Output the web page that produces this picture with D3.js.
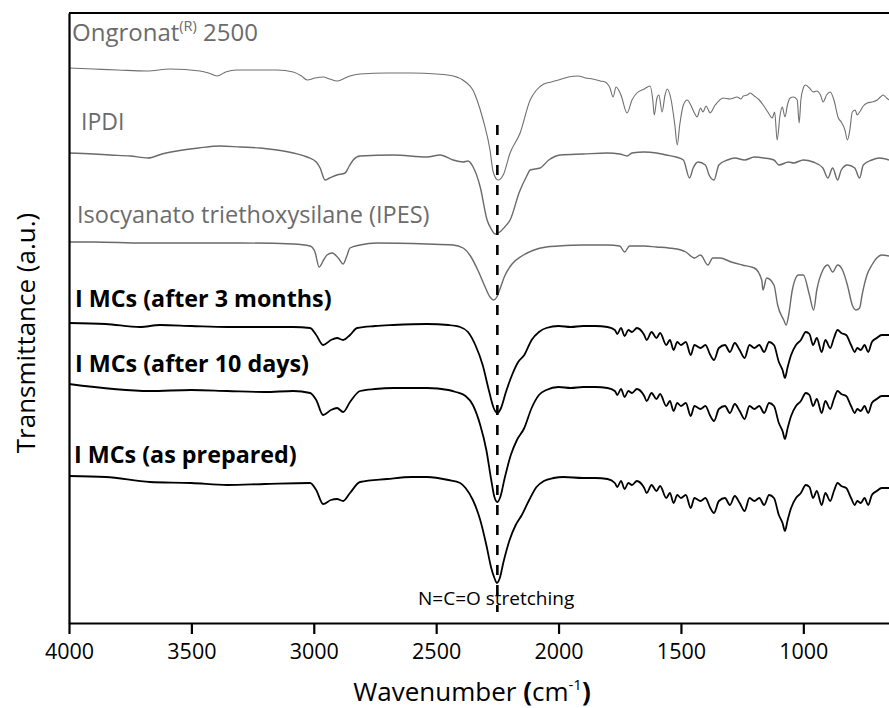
<!DOCTYPE html>
<html>
<head>
<meta charset="utf-8">
<script src="https://cdn.jsdelivr.net/npm/d3@7"></script>
<style>
  html, body { margin: 0; padding: 0; background: #fff; }
  svg { display: block; font-family: "Open Sans", "Noto Sans", sans-serif; }
</style>
</head>
<body>
<svg id="chart" width="889" height="708"></svg>
<script>
// ---------- DATA ----------
const xTicks = [4000, 3500, 3000, 2500, 2000, 1500, 1000];
const seriesNames = ["Ongronat 2500", "IPDI", "Isocyanato triethoxysilane (IPES)",
  "I MCs (after 3 months)", "I MCs (after 10 days)", "I MCs (as prepared)"];

const ongronatWn = [4000,3900,3800,3681,3587,3465,3430,3395,3360,3313,3150,3084,3050,3027,2995,2962,2935,2905,2880,2852,2811,2700,2600,2500,2430,2380,2350,2333,2308,2280,2267,2247,2226,2198,2157,2116,2090,2060,2030,2000,1960,1920,1890,1860,1830,1810,1790,1777,1765,1745,1720,1700,1680,1650,1626,1615,1609,1598,1590,1577,1565,1556,1540,1525,1515,1505,1490,1474,1460,1445,1434,1420,1410,1397,1388,1381,1360,1327,1300,1270,1255,1245,1229,1217,1200,1180,1164,1145,1127,1117,1107,1095,1086,1075,1065,1054,1040,1025,1017,1010,1000,992,975,960,945,930,919,905,890,875,857,845,830,820,810,800,788,780,770,755,739,720,698,685,674,660,650];
const ongronatT = [555,554,553,552,554,552,550,547,551,553,553,551,547,543,545,546,544,542,544,547,549,550,550,549,547,541,533,523,503,473,451,443,448,470,490,523,533,539,541,543,546,547,545,544,542,541,535,526,536,528,510,523,530,534,537,523,508,525,528,511,528,534,523,498,478,498,518,523,518,510,506,515,511,517,513,510,518,525,524,526,524,527,528,530,527,523,518,511,505,511,483,508,516,506,518,525,526,523,500,523,535,538,535,531,532,528,521,528,531,523,505,501,493,483,493,511,513,508,511,517,520,521,523,526,528,525,523];

const ipdiWn = [4000,3900,3832,3750,3677,3620,3559,3470,3383,3300,3219,3150,3084,3027,2990,2974,2954,2935,2905,2872,2855,2839,2811,2676,2537,2484,2431,2390,2370,2349,2320,2292,2275,2258,2240,2220,2198,2160,2130,2116,2075,2040,1993,1900,1800,1750,1720,1700,1650,1600,1560,1520,1490,1465,1450,1430,1400,1385,1365,1345,1310,1280,1240,1200,1160,1120,1100,1060,1040,1000,960,920,900,880,860,845,820,790,770,755,720,690,650];
const ipdiT = [470,469,468,467,465,469,472,475,477,476,475,473,470,466,461,455,443,445,448,450,457,463,467,468,466,468,463,461,462,456,436,403,394,389,391,396,403,431,447,453,455,463,468,469,470,469,467,470,471,470,468,466,463,445,455,461,458,448,443,458,463,465,463,466,465,463,458,461,460,463,461,455,445,455,443,453,458,455,445,458,463,465,463];

const ipesWn = [4000,3900,3698,3500,3300,3084,3015,2995,2978,2960,2946,2925,2900,2880,2865,2852,2811,2742,2537,2431,2390,2360,2330,2300,2280,2266,2252,2238,2220,2190,2150,2100,2050,2000,1900,1800,1750,1730,1710,1650,1600,1550,1500,1480,1445,1420,1390,1370,1340,1295,1250,1200,1170,1165,1150,1120,1105,1080,1070,1060,1045,1020,1000,975,958,945,920,900,880,860,840,820,800,785,770,760,740,720,700,680,650];
const ipesT = [381,381,380,380,380,379,377,371,356,363,368,370,365,359,367,375,378,380,379,378,375,367,353,336,326,323,326,335,347,359,367,373,376,377,378,378,377,371,377,377,376,375,373,371,365,368,358,365,365,361,358,355,343,333,345,338,318,303,298,308,333,348,348,328,313,333,353,358,351,358,353,338,318,313,315,328,348,358,365,368,367];

const m3Wn = [4000,3850,3710,3628,3500,3354,3200,3084,3015,2990,2962,2930,2905,2880,2852,2823,2750,2676,2537,2450,2402,2370,2340,2310,2285,2265,2250,2235,2215,2190,2165,2140,2110,2080,2050,2000,1950,1900,1850,1800,1770,1760,1745,1730,1715,1700,1680,1650,1640,1620,1600,1585,1560,1545,1530,1515,1500,1480,1460,1445,1420,1400,1380,1365,1345,1320,1300,1280,1260,1240,1220,1200,1180,1160,1140,1120,1100,1085,1075,1065,1050,1030,1010,990,975,960,945,925,910,890,875,860,845,825,805,790,780,765,750,735,720,700,680,650];
const m3T = [300,299,296,298,297,296,296,296,295,288,278,283,285,283,288,295,297,298,299,298,296,291,278,258,233,215,210,215,231,248,261,268,283,291,295,297,296,297,297,296,293,289,295,287,293,291,295,288,283,291,285,290,278,283,273,281,278,281,268,278,275,278,268,263,275,278,271,280,273,265,278,275,278,271,281,278,261,253,245,255,268,278,283,291,289,278,285,271,283,275,285,293,290,288,278,271,275,273,278,271,281,285,288,288];

const d10Wn = [4000,3669,3500,3354,3200,3084,3015,2990,2962,2930,2905,2880,2852,2811,2750,2676,2537,2450,2420,2380,2350,2320,2295,2275,2262,2250,2238,2220,2195,2170,2140,2110,2080,2050,2000,1950,1900,1850,1800,1770,1760,1745,1730,1715,1700,1680,1650,1640,1620,1600,1585,1560,1545,1530,1515,1500,1480,1460,1445,1420,1400,1380,1365,1345,1320,1300,1280,1260,1240,1220,1200,1180,1160,1140,1120,1100,1085,1075,1065,1050,1030,1010,990,975,960,945,925,910,890,875,860,845,825,805,790,780,765,750,735,720,700,680,650];
const d10T = [239,232,233,232,231,232,230,223,208,213,215,211,221,232,234,235,235,233,231,227,218,198,173,143,126,121,126,145,168,183,195,215,228,233,236,235,236,236,235,232,228,234,226,232,230,234,227,222,230,224,229,217,222,212,220,217,220,207,217,214,217,207,202,214,217,210,219,212,204,217,214,217,210,220,217,200,192,184,194,207,217,222,230,228,217,224,210,222,214,224,232,229,227,217,210,214,212,217,210,220,224,227,227];

const prepWn = [4000,3850,3669,3500,3354,3200,3015,2990,2962,2930,2905,2880,2852,2811,2700,2600,2537,2450,2402,2380,2350,2320,2295,2275,2262,2252,2240,2225,2200,2175,2150,2120,2090,2060,2020,1980,1900,1850,1800,1770,1760,1745,1730,1715,1700,1680,1650,1640,1620,1600,1585,1560,1545,1530,1515,1500,1480,1460,1445,1420,1400,1380,1365,1345,1320,1300,1280,1260,1240,1220,1200,1180,1160,1140,1120,1100,1085,1075,1065,1050,1030,1010,990,975,960,945,925,910,890,875,860,845,825,805,790,780,765,750,735,720,700,680,650];
const prepT = [147,146,141,140,138,139,140,133,119,123,124,122,130,141,144,146,146,143,140,135,123,103,78,55,45,40,45,61,83,98,108,123,136,142,145,146,145,145,144,140,136,142,134,140,138,142,135,130,138,132,137,125,130,120,128,125,128,115,125,122,125,115,110,122,125,118,127,120,112,125,122,125,118,128,125,108,100,92,102,115,125,130,138,136,125,132,118,130,122,132,140,137,135,125,118,122,120,125,118,128,132,135,135];

const ncoMarkerWn = 2250;
const ncoMarkerRange = [11, 498];
const ncoLabel = "N=C=O stretching";

// ---------- CHART ----------
(function () {
const svg = d3.select("#chart");
const pL = 69, pR = 889, pT = 13, pB = 623;

const x = d3.scaleLinear().domain([4000, 650]).range([pL, pR]);
const y = d3.scaleLinear().domain([0, 610]).range([pB, pT]);

const series = [
  {wn: ongronatWn, t: ongronatT, color: "#6f6f6f", width: 1.1},
  {wn: ipdiWn, t: ipdiT, color: "#6a6a6a", width: 1.4},
  {wn: ipesWn, t: ipesT, color: "#6a6a6a", width: 1.4},
  {wn: m3Wn, t: m3T, color: "#000", width: 1.8},
  {wn: d10Wn, t: d10T, color: "#000", width: 1.8},
  {wn: prepWn, t: prepT, color: "#000", width: 1.8}
];

const line = d3.line()
  .x(d => x(d[0]))
  .y(d => y(d[1]))
  .curve(d3.curveMonotoneX);

svg.append("g").selectAll("path")
  .data(series)
  .join("path")
  .attr("fill", "none")
  .attr("stroke", d => d.color)
  .attr("stroke-width", d => d.width)
  .attr("stroke-linejoin", "round")
  .attr("d", d => line(d.wn.map((w, i) => [w, d.t[i]])));

svg.append("line")
  .attr("x1", x(ncoMarkerWn)).attr("x2", x(ncoMarkerWn))
  .attr("y1", y(ncoMarkerRange[1])).attr("y2", y(ncoMarkerRange[0]))
  .attr("stroke", "#000").attr("stroke-width", 2.6)
  .attr("stroke-dasharray", "10,10");

svg.append("text")
  .attr("x", 418).attr("y", 605)
  .attr("font-size", 19)
  .attr("fill", "#000")
  .text(ncoLabel);

const xAxis = d3.axisBottom(x).tickValues(xTicks).tickSize(11).tickSizeOuter(0).tickFormat(d3.format("d"));
const gx = svg.append("g").attr("transform", `translate(0,${pB})`).call(xAxis);
gx.select(".domain").attr("stroke", "#000").attr("stroke-width", 2.2);
gx.selectAll(".tick line").attr("stroke", "#000").attr("stroke-width", 2.2);
gx.selectAll(".tick text")
  .attr("y", 36).attr("dy", 0)
  .attr("font-family", "Open Sans")
  .attr("font-size", 21.5).attr("fill", "#000");

const yAxis = d3.axisLeft(y).tickValues([]).tickSizeOuter(0);
const gy = svg.append("g").attr("transform", `translate(${pL},0)`).call(yAxis);
gy.select(".domain").attr("stroke", "#000").attr("stroke-width", 2.2);

svg.append("line")
  .attr("x1", pL).attr("x2", pR).attr("y1", pT).attr("y2", pT)
  .attr("stroke", "#000").attr("stroke-width", 2.2);

const grayLab = "#6b6b6b";
const lab1 = svg.append("text").attr("x", 72).attr("y", 41).attr("font-size", 24).attr("fill", grayLab);
lab1.append("tspan").text("Ongronat");
lab1.append("tspan").attr("font-size", 14.5).attr("dy", -10).text("(R)");
lab1.append("tspan").attr("dy", 10).text(" 2500");

svg.append("text").attr("x", 81).attr("y", 130).attr("font-size", 23).attr("fill", grayLab).text(seriesNames[1]);
svg.append("text").attr("x", 77).attr("y", 223).attr("font-size", 23.5).attr("fill", grayLab).text(seriesNames[2]);
svg.append("text").attr("x", 75).attr("y", 307).attr("font-size", 23.3).attr("font-weight", "bold").attr("fill", "#000").text(seriesNames[3]);
svg.append("text").attr("x", 75).attr("y", 372).attr("font-size", 23.3).attr("font-weight", "bold").attr("fill", "#000").text(seriesNames[4]);
svg.append("text").attr("x", 74).attr("y", 463).attr("font-size", 23.3).attr("font-weight", "bold").attr("fill", "#000").text(seriesNames[5]);

const xt = svg.append("text").attr("x", 472).attr("y", 701).attr("text-anchor", "middle")
  .attr("font-size", 26).attr("fill", "#000");
xt.append("tspan").text("Wavenumber ");
xt.append("tspan").attr("font-weight", "bold").text("(");
xt.append("tspan").text("cm");
xt.append("tspan").attr("font-size", 15).attr("dy", -11).text("-1");
xt.append("tspan").attr("dy", 11).attr("font-weight", "bold").text(")");

svg.append("text")
  .attr("transform", "translate(35,333) rotate(-90)")
  .attr("text-anchor", "middle")
  .attr("font-size", 26).attr("fill", "#000")
  .text("Transmittance (a.u.)");
})();
</script>
</body>
</html>
